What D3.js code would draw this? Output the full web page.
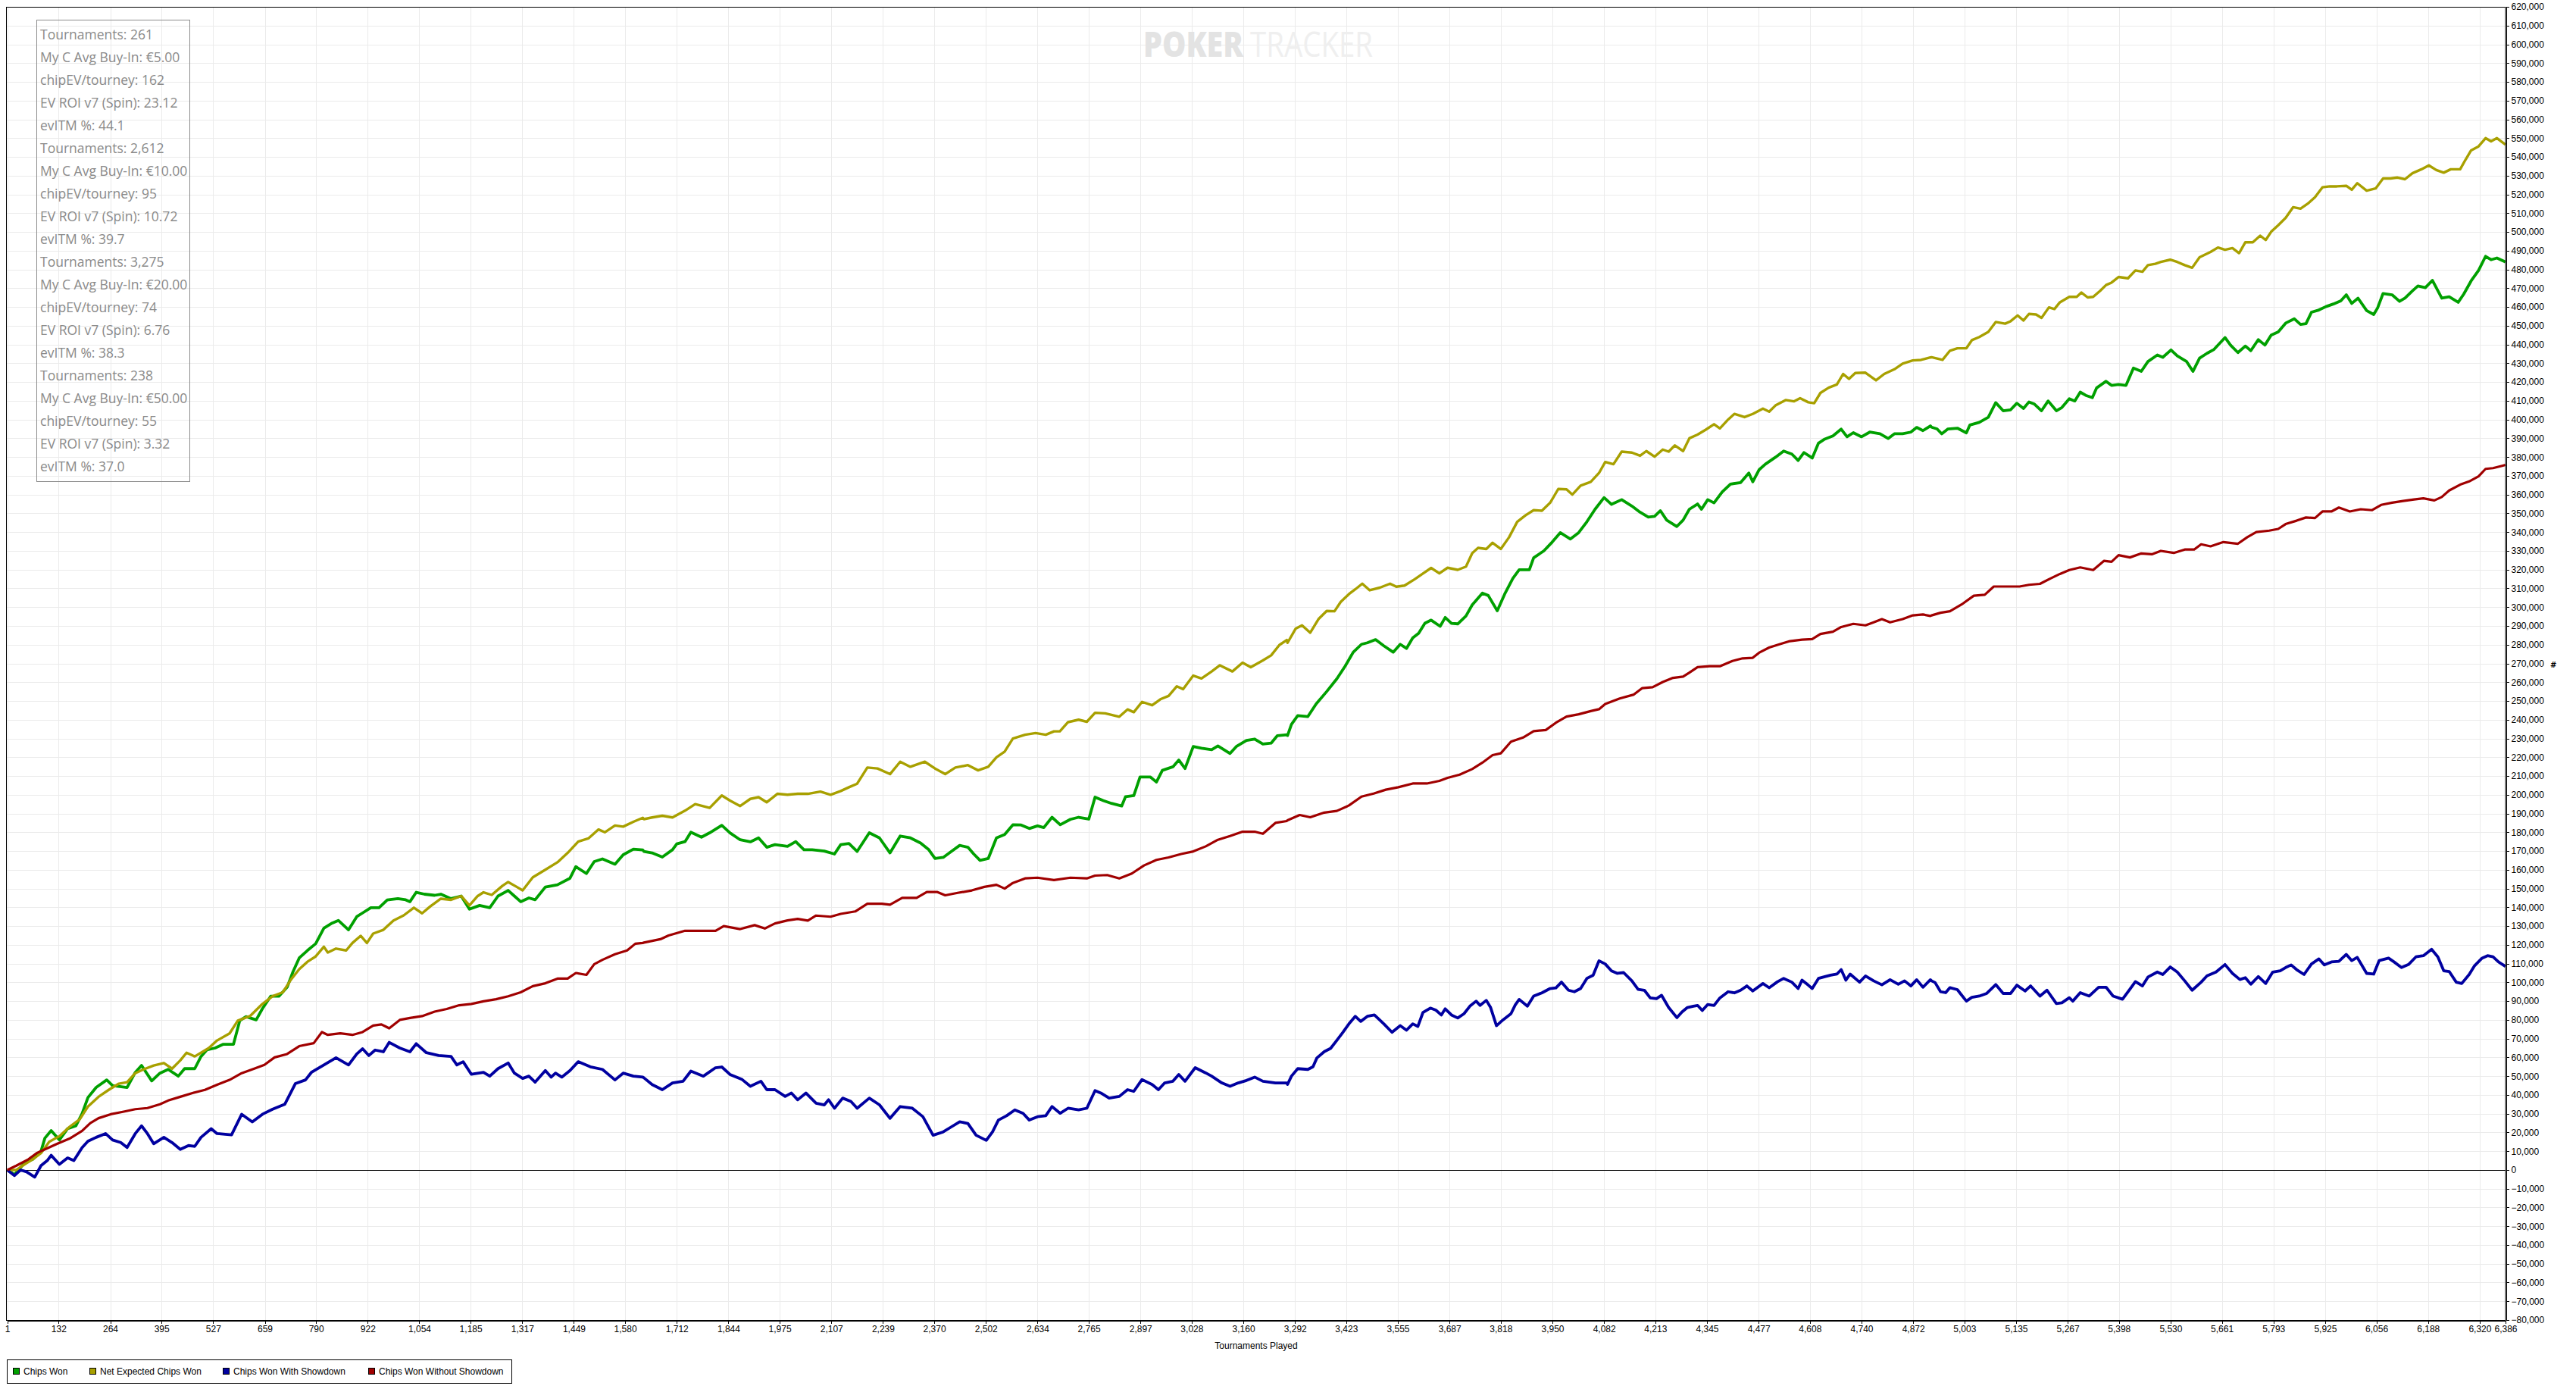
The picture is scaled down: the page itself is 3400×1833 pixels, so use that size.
<!DOCTYPE html>
<html>
<head>
<meta charset="utf-8">
<title>Tournaments Played - PokerTracker graph</title>
<script src="https://d3js.org/d3.v7.min.js"></script>
<style>
  body { margin: 0; background: #fff; }
  .axis text { font-family: "Liberation Sans", Arial, sans-serif; font-size: 12px; fill: #000; }
  .axis path, .axis line { stroke: #000; shape-rendering: crispEdges; }
  .grid line { stroke: #ebebeb; stroke-width: 1; shape-rendering: crispEdges; }
  .stats text { font-family: "Open Sans", "Noto Sans", sans-serif; font-size: 17.5px; fill: #8a8a8a; }
  .legend text { font-family: "Liberation Sans", Arial, sans-serif; font-size: 12px; fill: #000; }
</style>
</head>
<body>
<div id="chart"></div>
<script>
// [tournament, chips in thousands]
const chipsWon = [
  [1,0],[19,-2.5],[45,3.7],[66,5.7],[87,10],[97,17],[113,21],[134,16],[155,22],[176,23.5],
  [192,30],[207,38.6],[228,44],[255,48],[270,45],[307,44],[328,52],[344,55.7],[370,47.5],[391,51.6],
  [412,53.6],[438,50],[454,54],[480,54],[496,60.5],[511,64],[532,65],[553,67],[579,67],[595,79.6],
  [611,81.7],[637,80],[653,86],[674,92.6],[695,92.6],[716,97.4],[731,105.6],[747,113],[768,117],[789,120.6],
  [810,128.9],[831,131.6],[847,133],[873,128],[894,135],[909,137],[930,139.8],[951,139.8],[972,143.9],[999,144.6],
  [1019,144],[1030,143],[1046,148],[1067,147],[1093,146.4],[1109,147],[1135,144.6],[1161,146],[1182,139],[1208,141],
  [1234,139.8],[1255,146],[1281,149],[1297,146],[1313,143],[1334,145],[1350,144],[1376,150.8],[1407,152],[1439,155.5],
  [1454,161.7],[1481,158],[1501,164.4],[1522,165.8],[1554,163],[1575,168],[1601,171],[1625,170.6],
  [1628,169.8],[1649,169],[1675,166.8],[1701,170.7],[1712,173.8],[1733,175],[1748,180],[1775,177.4],[1796,179.7],[1827,183.7],
  [1848,179.7],[1874,176],[1900,174.9],[1921,177],[1942,172],[1963,173.4],[1995,172.5],[2016,175],[2037,170.7],[2058,170.7],
  [2089,170],[2115,168.4],[2131,173.4],[2152,174],[2173,169.8],[2204,179.7],[2230,177],[2257,169],[2283,178],[2309,177],
  [2335,174.3],[2356,170.7],[2372,166],[2393,166.6],[2414,169.8],[2435,173],[2456,172],[2471,168.4],[2487,165],[2508,166],
  [2529,177],[2550,178.8],[2571,184],[2592,183.9],[2613,182],[2634,183.4],[2650,182.5],[2671,188],[2692,184],[2718,186.9],
  [2739,188],[2765,187],[2781,198.7],[2802,196.9],[2823,195.4],[2849,194],[2859,199],[2880,199.6],[2896,209.5],[2922,209.5],
  [2938,206.8],[2953,213],[2980,214.9],[2995,218.5],[3011,214],[3032,225.7],[3053,224.8],[3079,224],[3095,226],[3126,222],
  [3142,225.7],[3168,229],[3189,229.7],[3210,227],[3231,227.5],[3247,231.5],[3271,232],
  [3273,231.6],[3283,237.5],[3299,242.2],[3325,241.7],[3346,248.4],[3373,255],[3399,261.8],[3420,268.5],[3441,276],[3462,280.2],
  [3477,281],[3498,282.7],[3519,279.4],[3543,276],[3561,280.2],[3577,278],[3593,283.6],[3608,286.1],[3624,291.4],[3640,293.1],
  [3663,289.8],[3676,294.5],[3692,291.4],[3708,291.1],[3729,295.3],[3745,301.2],[3771,307.5],[3786,306.2],[3809,298.1],[3828,307],
  [3849,315.4],[3865,319.9],[3891,319.9],[3902,326.3],[3928,330],[3949,334.6],[3970,339.7],[3996,336.3],[4017,339.7],[4038,345.5],
  [4059,352.2],[4082,358.4],[4101,354.8],[4127,357.3],[4153,353.9],[4174,350.6],[4195,348],[4211,348.4],[4226,351.4],[4242,346.4],
  [4268,343],[4284,346.4],[4300,352.2],[4321,355],[4331,352.2],[4347,357.3],[4363,355.6],[4384,361.4],[4405,365.6],[4431,366.4],
  [4452,371.5],[4462,366.8],[4478,373.2],[4494,376.2],[4520,379.9],[4541,383.2],[4562,381.6],[4578,378.2],[4593,382.4],[4614,379.5],
  [4630,387.4],[4646,389.6],[4667,391.3],[4688,394.9],[4703,390.8],[4719,393],[4740,390.8],[4761,393.3],[4787,392.4],[4808,389.9],
  [4824,392.4],[4845,392.4],[4866,393.3],[4881,395.8],[4897,394.1],[4916,396.6],
  [4919,395.9],[4933,395],[4945,392.4],[4961,395],[4985,395.4],[5008,392.9],[5017,397.1],[5041,398.5],[5064,401.2],[5083,409],
  [5102,404.7],[5121,405.2],[5137,408.7],[5154,405.9],[5168,409.4],[5182,408.2],[5200,404.7],[5217,409.9],[5238,404.7],[5252,406.4],
  [5271,411.1],[5285,409.9],[5299,414.6],[5313,412.9],[5330,411.7],[5341,416.9],[5365,420.4],[5379,418.2],[5397,418.7],[5416,418.2],
  [5435,427.4],[5455,425.7],[5472,430.9],[5496,434.4],[5510,433.2],[5531,437.1],[5547,433.9],[5571,430.9],[5587,425.7],[5604,432.7],
  [5623,435.3],[5641,437.4],[5669,443.7],[5683,439.7],[5702,435.7],[5721,439.2],[5735,436.7],[5754,442.6],[5771,439.7],[5787,445],
  [5805,446.7],[5824,451.4],[5846,453.7],[5862,450.7],[5876,451.1],[5890,457.2],[5909,458.4],[5927,460.2],[5946,461.6],[5965,463.3],
  [5979,466.5],[5993,461.9],[6009,464.7],[6031,458.1],[6049,456],[6059,459.5],[6073,467.2],[6096,466.5],[6115,463],[6129,464.7],
  [6148,468.6],[6162,471.2],[6181,470.3],[6199,474.2],[6223,464.7],[6242,465.4],[6265,462.5],[6279,466.8],[6298,473.9],[6317,479.5],
  [6335,487],[6349,485.2],[6364,486.1],[6386,484]
];

const netExpected = [
  [1,0],[24,0],[45,3],[66,5.7],[87,9],[108,15],[134,18],[160,23],[186,27],[207,33.8],
  [234,39],[260,42.7],[286,46],[307,46.8],[328,51.6],[349,53.6],[375,55.7],[401,57],[422,54],[443,58.4],
  [459,62.5],[480,60.5],[496,62.5],[516,65],[537,69],[569,72.8],[590,79.6],[621,82],[653,88.5],[679,92.6],
  [705,94.7],[726,101.5],[747,107],[768,111],[789,113.8],[810,119],[820,115.9],[841,118],[867,117],[883,121],
  [904,124.8],[920,121],[936,126],[962,128],[988,133],[1014,135.7],[1040,139.8],[1061,136.8],[1082,140.5],[1109,144.6],
  [1135,144],[1161,146],[1182,141],[1203,146],[1218,148],[1239,146.6],[1266,151.4],[1281,153.5],[1302,151],[1318,149],
  [1344,156],[1376,160],[1407,164],[1433,169],[1460,175],[1486,176.7],[1512,181.5],[1528,180],[1554,183.6],[1575,183],
  [1601,185.6],[1625,187.7],
  [1628,187],[1649,187.9],[1675,188.8],[1701,187.9],[1733,191.5],[1759,195],[1796,193],[1827,199.6],[1848,196.9],[1874,194],
  [1900,197.8],[1921,198.7],[1942,196],[1969,200.5],[1995,200],[2021,200.5],[2047,200.5],[2079,201.7],[2105,200],[2131,202],
  [2152,204],[2173,205.9],[2199,214.5],[2225,214],[2257,211],[2283,217.6],[2309,214.9],[2346,217.6],[2372,214],[2398,211],
  [2424,214.5],[2456,215.8],[2482,213],[2508,214.9],[2529,220],[2550,223],[2571,230],[2602,232],[2629,232.9],[2655,232],
  [2676,233.8],[2691,233.8],[2712,238.7],[2739,240],[2760,238.9],[2781,243.7],[2807,243.4],[2843,241.6],[2864,245.5],[2880,244],
  [2901,249.5],[2927,247.7],[2948,250.9],[2969,252.7],[2990,257.8],[3006,256.3],[3032,263.5],[3053,262],[3079,265.7],[3100,269],
  [3132,265.7],[3158,270.4],[3179,268],[3210,271.6],[3231,274.3],[3252,279.8],[3271,282.5],
  [3273,281],[3294,288.6],[3310,290.3],[3331,286.4],[3352,293.6],[3373,298],[3393,297.8],[3409,302.8],[3430,307],[3446,309.5],
  [3464,312.5],[3483,309],[3509,310.4],[3535,312.5],[3551,310.9],[3572,311.5],[3598,314.9],[3619,317.9],[3640,320.9],[3661,318],
  [3682,321],[3708,319.9],[3729,321.6],[3745,328.8],[3760,331.6],[3781,331],[3797,334.3],[3818,331],[3839,337.2],[3860,345.5],
  [3881,348.9],[3902,351.7],[3923,351.4],[3944,355.6],[3965,363],[3986,362.8],[4001,360],[4022,364.8],[4048,366.8],[4069,371.5],
  [4085,377.4],[4106,376.2],[4127,382.9],[4153,382.4],[4174,380.7],[4190,383.2],[4211,380.2],[4232,384],[4247,382.9],[4263,386.2],
  [4284,383.2],[4300,390],[4321,392],[4342,394.6],[4363,397.5],[4378,395.3],[4399,400],[4415,403],[4441,401.3],[4462,403],
  [4488,405.8],[4504,404.2],[4520,407.5],[4546,410.4],[4567,409.7],[4583,411.4],[4604,409.2],[4619,408.7],[4635,414.2],[4656,417],
  [4677,418.7],[4693,424.3],[4708,421.7],[4724,424.8],[4750,425],[4777,420.9],[4798,424.3],[4824,426.8],[4845,429.8],[4871,431.5],
  [4892,431.8],[4916,433.1],
  [4919,433.2],[4947,431.8],[4966,436.7],[4985,438],[5008,438],[5022,442.3],[5041,444],[5064,446.7],[5083,452],[5107,451.1],
  [5121,452.4],[5139,455.5],[5154,452.8],[5168,456.3],[5186,456],[5200,454.2],[5219,459.8],[5233,458.9],[5247,462.5],[5271,465.4],
  [5290,465.4],[5302,467.7],[5318,465.1],[5332,465.4],[5350,468.6],[5365,471.7],[5379,473],[5397,476],[5421,475.3],[5440,479.5],
  [5458,478.8],[5472,482.3],[5491,483],[5505,484],[5529,485.2],[5547,484],[5566,482.3],[5585,480.9],[5604,486.5],[5632,489.3],
  [5651,491.7],[5669,490.5],[5688,491.4],[5705,488.7],[5721,494.5],[5740,494.5],[5759,498],[5773,495.7],[5787,500.1],[5805,503.6],
  [5824,507.5],[5843,513.2],[5862,512.4],[5880,515],[5899,518.5],[5918,523.8],[5937,524.3],[5955,524.3],[5979,524.6],[5993,522.5],
  [6007,526],[6031,522],[6054,523.2],[6073,528.5],[6092,528.5],[6110,529],[6129,528.1],[6148,531.3],[6171,533.4],[6190,535.5],
  [6209,533],[6228,531.6],[6246,533.4],[6270,533.4],[6284,538.6],[6298,543.5],[6317,545.6],[6335,550],[6349,548.3],[6364,550],
  [6386,546.5]
];

const withShowdown = [
  [1,0],[19,-3],[35,0],[50,-1],[71,-3.8],[87,2.3],[103,5],[113,7.8],[134,3],[155,6.4],
  [171,5],[192,11.9],[207,15.3],[228,17.4],[252,19.4],[270,16],[291,14.6],[307,12],[328,19.4],[344,23.5],
  [359,19.4],[375,14],[401,17.4],[422,14.6],[443,11],[464,13],[480,12.6],[496,17.4],[522,22],[537,19.4],
  [574,18.7],[600,29.7],[627,25.6],[653,29.7],[679,32.4],[710,35],[737,46],[763,48],[778,52],[810,56],
  [841,59.8],[873,56],[894,61.8],[909,64.6],[925,61],[941,63.9],[962,63],[977,68],[1004,65],[1030,63],
  [1046,67.3],[1072,62.5],[1103,61],[1135,60.5],[1150,56],[1166,57.7],[1187,51],[1218,52],[1234,50],[1255,54],
  [1281,57],[1297,51.6],[1318,48.8],[1334,50],[1350,46.8],[1376,53],[1391,49.5],[1402,51.6],[1418,49.5],[1439,53],
  [1460,57.7],[1491,55],[1522,53.6],[1554,48],[1575,51.6],[1601,50],[1625,49.5],
  [1628,49.1],[1649,45.5],[1675,42.8],[1701,46.4],[1728,47.3],[1748,52.7],[1780,50],[1811,54.5],[1827,54.9],[1848,50.9],
  [1879,48.2],[1900,44.6],[1927,47.3],[1942,42.8],[1963,42.8],[1989,39.2],[2005,41],[2021,37.4],[2042,41],[2068,35.6],
  [2089,34.7],[2100,37.4],[2115,32.9],[2136,38.3],[2157,36.5],[2173,32.9],[2204,38.3],[2230,34.7],[2257,27.5],[2283,33.8],
  [2314,32.9],[2341,28.4],[2367,18.5],[2393,20.3],[2414,23],[2435,25.7],[2456,24.8],[2477,18.5],[2503,15.8],[2519,20.3],
  [2534,26.6],[2555,28.9],[2576,32],[2597,30.2],[2613,26.6],[2634,28.4],[2655,28.9],[2671,33.8],[2692,30.2],[2712,32.9],
  [2739,32],[2760,32.9],[2781,42.3],[2796,41],[2817,38.3],[2843,39.2],[2864,42.8],[2880,41.9],[2901,48.2],[2927,45.5],
  [2943,42.8],[2959,46.4],[2980,47.3],[2995,50.9],[3011,47.3],[3037,54.5],[3063,51.8],[3079,50],[3105,46.4],[3126,44.6],
  [3147,46.4],[3168,47.7],[3189,49.5],[3210,47.3],[3242,46.4],[3271,46.4],
  [3273,45.6],[3283,50],[3299,54],[3325,53.6],[3338,55],[3348,59.7],[3367,63.1],[3383,64.8],[3399,69.1],[3414,73.2],
  [3430,77.9],[3446,81.9],[3460,79.2],[3477,81.9],[3495,82.6],[3519,77.9],[3540,73.4],[3561,76.9],[3577,74.5],[3593,77.9],
  [3606,76.5],[3619,83.9],[3638,86.3],[3652,85.2],[3666,82.6],[3676,85.9],[3692,82.6],[3708,81],[3724,83.3],[3739,87.3],
  [3755,90],[3765,87.7],[3781,90.4],[3792,86.6],[3807,76.9],[3823,79.9],[3844,83.3],[3855,88],[3865,90.9],[3886,87.3],
  [3902,92.7],[3923,94.4],[3944,96.7],[3959,97.1],[3973,100.1],[3991,95.8],[4006,95],[4022,96.7],[4038,102.1],[4054,103.8],
  [4069,111.5],[4085,109.8],[4101,106.1],[4116,104.8],[4132,105.2],[4153,100.8],[4169,96.3],[4185,95.8],[4200,91.7],[4216,91.3],
  [4229,93.1],[4247,86.6],[4268,81.2],[4281,84.2],[4295,86.6],[4310,87.3],[4321,87.7],[4333,85],[4347,88.2],[4363,87.7],
  [4378,91.7],[4399,95],[4415,94.4],[4431,95.8],[4447,98.1],[4462,95.4],[4488,99.4],[4504,97.1],[4525,100.3],[4541,102.1],
  [4562,100.1],[4578,96.7],[4588,101.2],[4604,98.5],[4614,96.7],[4630,102.1],[4646,103],[4661,103.8],[4677,104.4],[4688,106.8],
  [4700,101.2],[4711,104.4],[4735,100.1],[4750,103.4],[4771,100.8],[4792,98.7],[4813,101.4],[4834,99],[4850,100.8],[4866,98.1],
  [4881,101.4],[4897,97.4],[4916,101.4],
  [4919,100.8],[4928,99.9],[4942,95],[4955,94.5],[4966,97.2],[4985,96.1],[4994,93.7],[5008,90],[5022,92],[5041,92.7],
  [5060,94.1],[5083,98.8],[5102,94.1],[5121,94.1],[5137,98.5],[5158,95.4],[5172,98.1],[5196,92.7],[5214,95.8],[5238,88.7],
  [5252,89.1],[5271,91.8],[5280,90],[5299,94.5],[5322,92.7],[5346,97.4],[5365,97.4],[5383,92.7],[5407,91],[5426,96.4],
  [5440,100.4],[5458,98.1],[5472,102.8],[5496,105.5],[5510,104.2],[5529,108.2],[5547,105.5],[5566,100.8],[5585,95.8],[5608,100.1],
  [5623,103.5],[5646,105.5],[5669,109.5],[5688,104.8],[5707,101.5],[5721,102.5],[5735,99],[5754,103.1],[5773,99.4],[5791,105.5],
  [5810,106.2],[5824,107.9],[5838,109.3],[5852,106.8],[5871,104.2],[5890,109.8],[5909,112.5],[5923,109.3],[5941,110.9],[5960,111.2],
  [5979,114.9],[5993,111.6],[6007,113.3],[6031,104.8],[6049,104.4],[6063,111.6],[6087,112.9],[6101,110.9],[6120,107.9],[6138,109.5],
  [6157,113.6],[6176,114.2],[6197,117.6],[6213,113.6],[6228,106.2],[6242,105.8],[6260,100.1],[6274,99.4],[6293,104.2],[6307,108.9],
  [6326,112.9],[6340,114.2],[6354,113.6],[6368,110.9],[6386,108.5]
];

const withoutShowdown = [
  [1,0],[24,2.3],[55,5.7],[76,9],[97,11],[129,14],[160,16.7],[192,20.8],[213,25],[234,27.6],
  [265,29.7],[296,31],[328,32.4],[359,33],[391,35],[412,37],[443,39],[474,41],[506,42.7],[537,45.4],
  [569,48],[600,51.6],[632,54],[658,56],[684,60],[716,61.8],[747,66],[784,67.6],[805,73.5],[820,72],
  [852,72.8],[883,72],[909,73.5],[936,77],[957,77.6],[977,75.5],[1004,80],[1030,81],[1061,82],[1093,84.4],
  [1124,85.8],[1156,87.8],[1187,88.5],[1218,89.9],[1250,91],[1281,92.6],[1313,94.7],[1344,98],[1376,99.5],[1407,102],
  [1433,102],[1454,105],[1481,104],[1501,109.7],[1522,112],[1554,115],[1585,117],[1606,120.6],[1625,121],
  [1628,121.2],[1670,123],[1691,125],[1733,127.5],[1775,127.5],[1811,127.5],[1832,130],[1874,128.4],[1911,130.5],[1937,128.7],
  [1963,131.4],[1995,133],[2021,133.8],[2047,132.9],[2068,135.6],[2105,135],[2131,136.5],[2168,137.8],[2199,141.9],[2236,141.9],
  [2257,141.4],[2288,145],[2325,145],[2351,148.2],[2377,148.2],[2398,146.4],[2430,147.7],[2466,149],[2498,150.9],[2529,152],
  [2550,150],[2571,153],[2602,155.4],[2634,155.8],[2676,154.5],[2718,155.8],[2760,155.4],[2781,156.9],[2812,157.2],[2843,155.4],
  [2875,158],[2906,162.3],[2938,165.3],[2969,166.6],[3001,168.4],[3032,169.8],[3064,172.5],[3095,176],[3126,178],[3158,180.3],
  [3189,180.3],[3210,179.2],[3242,185],[3271,186],
  [3273,186.4],[3304,189.2],[3331,188],[3367,190.5],[3399,191.4],[3430,194.3],[3462,199],[3493,200.6],[3524,202.7],[3556,204],
  [3593,206],[3629,206],[3661,207.4],[3682,209],[3713,210.7],[3745,213.7],[3771,217.1],[3797,221.1],[3818,222.1],[3844,228.3],
  [3875,230.5],[3902,233.9],[3933,234.5],[3959,238.4],[3986,241.7],[4017,242.9],[4048,244.6],[4069,245.6],[4085,248.4],[4122,251.3],
  [4158,253.4],[4179,256.8],[4206,257.3],[4232,260.1],[4258,262.3],[4284,263],[4300,265.1],[4321,268],[4352,268.5],[4378,268.5],
  [4410,271.3],[4436,272.7],[4462,273],[4478,275.7],[4504,278.5],[4530,280.2],[4557,281.9],[4588,282.7],[4614,283],[4635,285.7],
  [4667,286.9],[4688,289.4],[4719,291.1],[4750,290.3],[4771,291.9],[4792,293.6],[4813,291.9],[4845,293.6],[4871,295.6],[4897,296.1],
  [4916,295.3],
  [4919,295.6],[4942,297],[4966,297.8],[4999,301.9],[5027,306.1],[5055,306.6],[5078,311],[5107,311],[5144,311],[5168,311.9],
  [5196,312.4],[5224,315.4],[5247,317.7],[5271,319.8],[5299,321.2],[5332,319.8],[5360,324.7],[5379,324.2],[5397,327.7],[5426,326.5],
  [5454,328.6],[5482,328.2],[5505,330],[5538,328.9],[5566,330.7],[5590,330.7],[5608,333.5],[5632,332.4],[5665,334.7],[5702,333.8],
  [5726,337.3],[5749,340],[5782,340.8],[5805,341.7],[5824,344.3],[5852,346.1],[5876,347.8],[5899,347.5],[5918,351],[5941,351],
  [5960,353.1],[5988,351],[6016,352.2],[6045,351.7],[6068,354.5],[6096,355.7],[6124,356.6],[6152,357.4],[6176,358],[6204,356.9],
  [6223,358.7],[6242,362.2],[6270,365.3],[6293,367],[6317,369.7],[6335,373.7],[6354,374.1],[6386,375.8]
];

const xTickValues = [1,132,264,395,527,659,790,922,1054,1185,1317,1449,1580,1712,1844,1975,2107,2239,2370,2502,
  2634,2765,2897,3028,3160,3292,3423,3555,3687,3818,3950,4082,4213,4345,4477,4608,4740,4872,5003,5135,
  5267,5398,5530,5661,5793,5925,6056,6188,6320,6386];

const statLines = [
  "Tournaments: 261", "My C Avg Buy-In: €5.00", "chipEV/tourney: 162", "EV ROI v7 (Spin): 23.12", "evITM %: 44.1",
  "Tournaments: 2,612", "My C Avg Buy-In: €10.00", "chipEV/tourney: 95", "EV ROI v7 (Spin): 10.72", "evITM %: 39.7",
  "Tournaments: 3,275", "My C Avg Buy-In: €20.00", "chipEV/tourney: 74", "EV ROI v7 (Spin): 6.76", "evITM %: 38.3",
  "Tournaments: 238", "My C Avg Buy-In: €50.00", "chipEV/tourney: 55", "EV ROI v7 (Spin): 3.32", "evITM %: 37.0"
];

const seriesNames = ["Chips Won", "Net Expected Chips Won", "Chips Won With Showdown", "Chips Won Without Showdown"];
const seriesColors = ["#00a000", "#a8a000", "#0000a0", "#a00000"];
const seriesWidths = [3.8, 3.4, 3.8, 3.2];
const seriesData = [chipsWon, netExpected, withShowdown, withoutShowdown];

const width = 3400, height = 1833;
const plot = { left: 9, top: 9, right: 3307, bottom: 1742 };

const svg = d3.select('#chart').append('svg')
  .attr('width', width)
  .attr('height', height)
  .style('display', 'block');

svg.append('rect').attr('width', width).attr('height', height).attr('fill', '#fff');

const x = d3.scaleLinear().domain([1, 6386]).range([plot.left + 0.7, plot.right]);
const y = d3.scaleLinear().domain([-80000, 620000]).range([plot.bottom, plot.top]);
const yTickValues = d3.range(-80000, 620001, 10000);
const fmt = d3.format(',');

// grid
const grid = svg.append('g').attr('class', 'grid');
grid.selectAll('line.v').data(xTickValues).enter().append('line')
  .attr('class', 'v')
  .attr('x1', d => Math.round(x(d)) + 0.5).attr('x2', d => Math.round(x(d)) + 0.5)
  .attr('y1', plot.top).attr('y2', plot.bottom);
grid.selectAll('line.h').data(yTickValues).enter().append('line')
  .attr('class', 'h')
  .attr('x1', plot.left).attr('x2', plot.right)
  .attr('y1', d => Math.round(y(d)) + 0.5).attr('y2', d => Math.round(y(d)) + 0.5);

// watermark
const wm = svg.append('g').attr('font-family', '"Open Sans", "Noto Sans", sans-serif').attr('font-size', 46);
wm.append('text').attr('x', 1509).attr('y', 75).attr('font-weight', 800).attr('fill', '#e3e3e3')
  .attr('textLength', 132).attr('lengthAdjust', 'spacingAndGlyphs').text('POKER');
wm.append('text').attr('x', 1650).attr('y', 75).attr('font-weight', 400).attr('fill', '#efefef')
  .attr('textLength', 162).attr('lengthAdjust', 'spacingAndGlyphs').text('TRACKER');

// zero line
svg.append('line')
  .attr('x1', plot.left).attr('x2', plot.right)
  .attr('y1', Math.round(y(0)) + 0.5).attr('y2', Math.round(y(0)) + 0.5)
  .attr('stroke', '#000').attr('stroke-width', 1);

// series
const line = d3.line()
  .x(d => x(d[0]))
  .y(d => y(d[1] * 1000));

svg.append('g').attr('class', 'series')
  .selectAll('path')
  .data(seriesData)
  .enter()
  .append('path')
  .attr('d', d => line(d))
  .attr('fill', 'none')
  .attr('stroke', (d, i) => seriesColors[i])
  .attr('stroke-width', (d, i) => seriesWidths[i])
  .attr('stroke-linejoin', 'round');

// frame
svg.append('rect')
  .attr('x', plot.left - 0.5).attr('y', plot.top + 0.5)
  .attr('width', plot.right - plot.left + 0.5).attr('height', plot.bottom - plot.top)
  .attr('fill', 'none').attr('stroke', '#000').attr('stroke-width', 1);

// axes
svg.append('g')
  .attr('class', 'axis')
  .attr('transform', `translate(${plot.right + 0.5},0)`)
  .call(d3.axisRight(y).tickValues(yTickValues).tickFormat(fmt).tickSize(4).tickSizeOuter(0).tickPadding(3));

svg.append('g')
  .attr('class', 'axis')
  .attr('transform', `translate(0,${plot.bottom + 0.5})`)
  .call(d3.axisBottom(x).tickValues(xTickValues).tickFormat(fmt).tickSize(4).tickSizeOuter(0).tickPadding(3));

svg.append('text')
  .attr('x', (plot.left + plot.right) / 2).attr('y', 1780)
  .attr('text-anchor', 'middle')
  .attr('font-family', '"Liberation Sans", Arial, sans-serif').attr('font-size', 12)
  .text('Tournaments Played');

svg.append('text')
  .attr('x', 3366).attr('y', 881)
  .attr('font-family', '"DejaVu Sans", sans-serif').attr('font-size', 10).attr('font-weight', 700)
  .text('#');

// stats box
const stats = svg.append('g').attr('class', 'stats');
stats.append('rect')
  .attr('x', 48.5).attr('y', 26.5).attr('width', 202).attr('height', 609)
  .attr('fill', 'none').attr('stroke', '#8c8c8c').attr('stroke-width', 1);
stats.selectAll('text').data(statLines).enter().append('text')
  .attr('x', 53)
  .attr('y', (d, i) => 51.5 + i * 30)
  .text(d => d);

// legend
const legend = svg.append('g').attr('class', 'legend');
legend.append('rect')
  .attr('x', 9.5).attr('y', 1794.5).attr('width', 666).attr('height', 31)
  .attr('fill', '#fff').attr('stroke', '#000').attr('stroke-width', 1);
const legendX = [17, 118, 294, 486];
const items = legend.selectAll('g.item').data(seriesNames).enter().append('g')
  .attr('class', 'item')
  .attr('transform', (d, i) => `translate(${legendX[i]},1805)`);
items.append('rect')
  .attr('x', 0.5).attr('y', 0.5).attr('width', 8).attr('height', 8)
  .attr('fill', (d, i) => seriesColors[i]).attr('stroke', '#000').attr('stroke-width', 1);
items.append('text')
  .attr('x', 14).attr('y', 9)
  .text(d => d);
</script>
</body>
</html>
